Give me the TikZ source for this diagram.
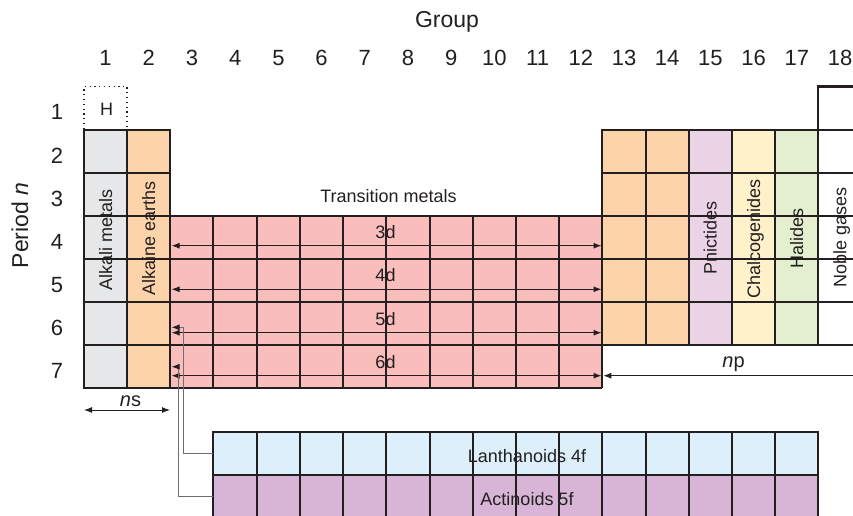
\documentclass[tikz,border=0pt]{standalone}
\usepackage{fontspec}
\setmainfont{Liberation Sans}
\usetikzlibrary{arrows.meta}
\definecolor{ink}{HTML}{231F20}
\definecolor{wire}{HTML}{6D6E71}
\definecolor{alkali}{HTML}{E6E7E8}
\definecolor{earth}{HTML}{FDD4A9}
\definecolor{trans}{HTML}{F9BDBB}
\definecolor{pnic}{HTML}{EBD3E6}
\definecolor{chalc}{HTML}{FFF1C9}
\definecolor{halo}{HTML}{E3EFCF}
\definecolor{lanth}{HTML}{DCEFFB}
\definecolor{actin}{HTML}{D8B5D6}
\begin{document}
\begin{tikzpicture}[x=1pt,y=-1pt,
  cellline/.style={draw=ink, line width=1.1pt},
  rim/.style={draw=ink, line width=2.2pt, line join=miter},
  dspan/.style={draw=ink, line width=1pt,
    {Latex[length=8pt,width=6pt]}-{Latex[length=8pt,width=6pt]}},
  oneway/.style={draw=ink, line width=1pt, {Latex[length=8pt,width=6pt]}-},
  feed/.style={draw=wire, line width=1pt, -{Latex[length=8pt,width=6pt,color=ink]}},
  lbl/.style={text=ink, inner sep=0pt, anchor=base, font=\fontsize{18}{18}\selectfont},
  big/.style={lbl, font=\fontsize{22}{22}\selectfont},
  vlbl/.style={lbl, rotate=90},
]
\useasboundingbox (0,0) rectangle (853,516);
\clip (0,0) rectangle (853,516);

% ---- fills ----
% s-block
\fill[alkali] (84,130) rectangle (127,388);
\fill[earth] (127,130) rectangle (170,388);
% d-block
\fill[trans] (170,216) rectangle (602,388);
% p-block columns
\fill[earth] (602,130) rectangle (689,345);
\fill[pnic] (689,130) rectangle (732,345);
\fill[chalc] (732,130) rectangle (775,345);
\fill[halo] (775,130) rectangle (818,345);
% f-block rows
\fill[lanth] (213,432) rectangle (818,475);
\fill[actin] (213,475) rectangle (818,518);

% ---- inner cell lines ----
% s-block
\foreach \r in {173,216,259,302,345} \draw[cellline] (84,\r) -- (170,\r);
\draw[cellline] (127,130) -- (127,388);
% d-block
\foreach \r in {259,302,345,388} \draw[cellline] (170,\r) -- (602,\r);
\foreach \c in {213,257,300,343,386,430,473,516,559} \draw[cellline] (\c,216) -- (\c,388);
\draw[cellline] (602,345) -- (602,388);
\draw[draw=ink, line width=1.6pt] (170,216) -- (602,216);
% p-block
\foreach \r in {173,216,259,302} \draw[cellline] (602,\r) -- (862,\r);
\foreach \c in {646,689,732,775,818} \draw[cellline] (\c,130) -- (\c,345);
\draw[cellline] (818,130) -- (862,130);
% f-block
\draw[cellline] (213,475) -- (818,475);
\foreach \c in {257,300,343,386,430,473,516,559,602,646,689,732,775}
  \draw[cellline] (\c,432) -- (\c,518);

% ---- outlines ----
\draw[rim] (84,130) rectangle (170,388);
\draw[rim] (870,345) -- (602,345) -- (602,130) -- (818,130) -- (818,86.5) -- (870,86.5);
\draw[rim] (213,520) -- (213,432) -- (818,432) -- (818,520);
% hydrogen box
\draw[draw=ink, line width=1.2pt, dash pattern=on 1.2pt off 3.6pt]
  (84,129) -- (84,86.5) -- (127,86.5) -- (127,129);

% ---- subshell arrows ----
\foreach \n/\y in {3/245.7,4/289.3,5/332.7,6/375.7} {
  \coordinate (d\n W) at (171.5,\y);
  \coordinate (d\n E) at (601.5,\y);
  \draw[dspan] (d\n W) -- (d\n E);
  \node[lbl] (lab\n d) at (385.5,{\y-7.7}) {\n d};
}
\coordinate (nsW) at (84,410);
\coordinate (nsE) at (170,410);
\draw[dspan] (nsW) -- (nsE);
\node[lbl, font=\fontsize{20}{20}\selectfont] (nslab) at (130.5,406) {\textit{n}s};
\coordinate (npW) at (603.3,375.7);
\coordinate (npE) at (870,375.7);
\draw[oneway] (npW) -- (npE);
\node[lbl, font=\fontsize{20}{20}\selectfont] (nplab) at (733.5,367) {\textit{n}p};

% ---- f-block feeds ----
\coordinate (lanW) at (213,453.5);
\coordinate (actW) at (213,496.7);
\coordinate (lanT) at (171.5,327.3);
\coordinate (actT) at (171.5,366.7);
\draw[feed] (lanW) -- (183.3,453.5) -- (183.3,327.3) -- (lanT);
\draw[feed] (actW) -- (178.3,496.7) -- (178.3,366.7) -- (actT);

% ---- labels ----
\node[lbl, font=\fontsize{23}{23}\selectfont] (grouptitle) at (447,28) {Group};
\foreach \g in {1,...,18} \node[big] (g\g) at ({105.6+43.2*(\g-1)},66) {\g};
\foreach \p in {1,...,7} \node[big] (p\p) at (57,{120+43*(\p-1)}) {\p};
\node[vlbl, font=\fontsize{23}{23}\selectfont] (periodtitle) at (28,225.5) {Period \textit{n}};
\node[lbl] (hyd) at (106.5,115) {H};
\node[lbl] (tm) at (388.5,202) {Transition metals};
\node[vlbl] (alk) at (112,240) {Alkali metals};
\node[vlbl] (ear) at (155,238) {Alkaine earths};
\node[vlbl] (pn) at (716.5,238) {Pnictides};
\node[vlbl] (ch) at (760,239) {Chalcogenides};
\node[vlbl] (ha) at (803,238.5) {Halides};
\node[vlbl] (ng) at (846.4,237) {Noble gases};
\node[lbl] (lan) at (527,462) {Lanthanoids 4f};
\node[lbl] (act) at (527,505) {Actinoids 5f};
\end{tikzpicture}
\end{document}
